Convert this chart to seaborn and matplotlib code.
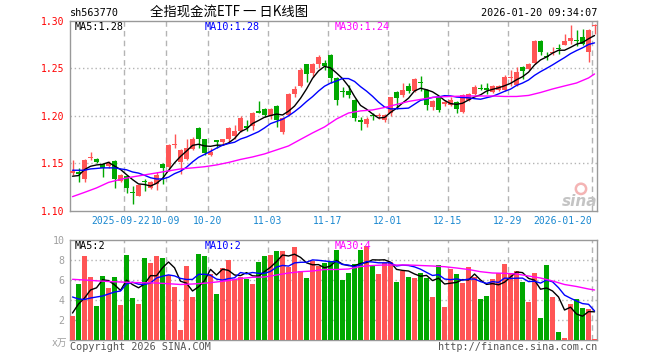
import numpy as np
import pandas as pd
import matplotlib
matplotlib.use("Agg")
import matplotlib.pyplot as plt
import seaborn as sns

# ==========================================================
# DATA  (daily K-line, 2025-09-09 .. 2026-01-20, 88 sessions)
# ==========================================================
opens = [1.140, 1.141, 1.133, 1.155, 1.154, 1.149, 1.147, 1.152, 1.131, 1.137,
         1.120, 1.116, 1.131, 1.124, 1.128, 1.149, 1.146, 1.169, 1.151, 1.154,
         1.165, 1.187, 1.175, 1.159, 1.174, 1.172, 1.176, 1.179, 1.184, 1.189,
         1.189, 1.205, 1.207, 1.200, 1.210, 1.183, 1.201, 1.223, 1.231, 1.254,
         1.245, 1.255, 1.256, 1.264, 1.240, 1.2255, 1.226, 1.217, 1.195, 1.191,
         1.2005, 1.1995, 1.195, 1.203, 1.225, 1.222, 1.231, 1.226, 1.236, 1.227,
         1.209, 1.220, 1.2125, 1.211, 1.215, 1.204, 1.217, 1.223, 1.229, 1.229,
         1.225, 1.227, 1.227, 1.2395, 1.232, 1.251, 1.249, 1.256, 1.279, 1.2625,
         1.2665, 1.271, 1.275, 1.279, 1.2795, 1.283, 1.267, 1.295]
highs = [1.153, 1.145, 1.154, 1.162, 1.155, 1.150, 1.152, 1.153, 1.139, 1.138,
         1.126, 1.128, 1.133, 1.131, 1.141, 1.150, 1.170, 1.181, 1.165, 1.175,
         1.178, 1.188, 1.176, 1.166, 1.174, 1.176, 1.188, 1.190, 1.200, 1.196,
         1.204, 1.216, 1.208, 1.208, 1.211, 1.199, 1.224, 1.231, 1.250, 1.255,
         1.256, 1.264, 1.259, 1.265, 1.241, 1.230, 1.232, 1.218, 1.199, 1.199,
         1.203, 1.203, 1.202, 1.220, 1.226, 1.235, 1.235, 1.240, 1.242, 1.228,
         1.217, 1.221, 1.217, 1.220, 1.216, 1.223, 1.224, 1.232, 1.233, 1.234,
         1.232, 1.232, 1.243, 1.248, 1.251, 1.252, 1.256, 1.280, 1.280, 1.267,
         1.272, 1.276, 1.286, 1.296, 1.290, 1.291, 1.291, 1.297]
lows = [1.138, 1.130, 1.130, 1.153, 1.150, 1.136, 1.145, 1.124, 1.130, 1.119,
        1.107, 1.115, 1.121, 1.123, 1.122, 1.128, 1.142, 1.166, 1.139, 1.153,
        1.164, 1.166, 1.159, 1.158, 1.166, 1.169, 1.171, 1.175, 1.183, 1.184,
        1.185, 1.203, 1.199, 1.197, 1.188, 1.181, 1.200, 1.220, 1.230, 1.236,
        1.241, 1.250, 1.248, 1.234, 1.211, 1.220, 1.219, 1.194, 1.185, 1.188,
        1.196, 1.197, 1.193, 1.200, 1.207, 1.220, 1.224, 1.225, 1.226, 1.206,
        1.206, 1.204, 1.210, 1.210, 1.203, 1.203, 1.216, 1.222, 1.227, 1.223,
        1.224, 1.226, 1.226, 1.231, 1.231, 1.239, 1.248, 1.255, 1.264, 1.259,
        1.264, 1.265, 1.274, 1.276, 1.273, 1.275, 1.257, 1.286]
closes = [1.142, 1.139, 1.153, 1.156, 1.151, 1.145, 1.150, 1.133, 1.138, 1.124,
          1.119, 1.127, 1.130, 1.130, 1.138, 1.145, 1.169, 1.170, 1.164, 1.166,
          1.175, 1.175, 1.161, 1.162, 1.172, 1.175, 1.187, 1.184, 1.198, 1.187,
          1.203, 1.203, 1.201, 1.207, 1.195, 1.198, 1.223, 1.228, 1.248, 1.244,
          1.254, 1.262, 1.252, 1.240, 1.217, 1.2245, 1.222, 1.198, 1.193, 1.197,
          1.1995, 1.2005, 1.201, 1.2195, 1.219, 1.227, 1.226, 1.239, 1.234, 1.211,
          1.216, 1.206, 1.214, 1.217, 1.207, 1.222, 1.223, 1.230, 1.228, 1.227,
          1.231, 1.231, 1.241, 1.2405, 1.246, 1.247, 1.255, 1.279, 1.267, 1.2615,
          1.2675, 1.270, 1.279, 1.282, 1.2785, 1.276, 1.290, 1.296]
volumes = [2.4, 5.6, 8.4, 6.3, 3.4, 6.4, 5.2, 6.3, 3.5, 8.5,
           4.2, 3.6, 8.2, 7.7, 8.4, 8.2, 6.5, 5.3, 1.0, 7.4,
           4.3, 8.6, 8.4, 6.6, 4.6, 7.2, 8.0, 6.1, 6.3, 6.1,
           5.6, 7.8, 8.4, 8.5, 8.9, 8.9, 7.3, 9.3, 6.9, 6.2,
           7.9, 7.4, 7.7, 7.8, 9.0, 6.0, 6.7, 7.6, 9.0, 9.4,
           7.4, 6.6, 7.7, 7.8, 5.8, 6.9, 6.3, 6.2, 6.7, 6.2,
           4.3, 7.5, 3.3, 7.1, 6.6, 5.7, 7.3, 6.3, 4.1, 4.4,
           6.1, 6.7, 7.6, 6.7, 6.9, 5.8, 3.8, 6.7, 2.2, 7.5,
           4.3, 0.8, 0.2, 3.6, 4.1, 3.2, 3.1, 0.1]

# moving averages at the left edge (need sessions before the window)
ma5_head = [1.1363, 1.1370, 1.1433, 1.1468]
ma10_head = [1.1426, 1.1426, 1.1426, 1.1440, 1.1445, 1.1451, 1.1451, 1.1451, 1.1440]
vol_ma5_head = [2.7, 3.6, 4.2, 5.0]
vol_ma10_head = [4.3, 4.1, 4.05, 4.2, 4.3, 4.4, 4.6, 4.8, 4.9]

# MA30 every second session
ma30_days = list(range(0, 88, 2)) + [87]
ma30 = [1.1148, 1.1193, 1.1240, 1.1298, 1.1330, 1.1356, 1.1377, 1.1398, 1.1419, 1.1440,
        1.1451, 1.1463, 1.1482, 1.1508, 1.1540, 1.1566, 1.1598, 1.1640, 1.1682, 1.1751,
        1.1819, 1.1882, 1.1966, 1.2029, 1.2051, 1.2061, 1.2087, 1.2119, 1.2151, 1.2172,
        1.2193, 1.2201, 1.2205, 1.2208, 1.2208, 1.2208, 1.2203, 1.2203, 1.2214, 1.2245,
        1.2282, 1.2314, 1.2345, 1.2398, 1.2440]
vol_ma30 = [6.07, 6.0, 5.92, 5.85, 5.8, 5.75, 5.72, 5.7, 5.63, 5.55,
            5.6, 5.68, 5.8, 5.95, 6.15, 6.27, 6.3, 6.5, 6.7, 6.83,
            6.9, 7.05, 7.05, 7.1, 7.35, 7.45, 7.5, 7.5, 7.5, 7.45,
            7.4, 7.33, 7.2, 7.05, 6.83, 6.7, 6.67, 6.6, 6.4, 6.2,
            5.9, 5.55, 5.35, 5.1, 5.0]

date_days = [9, 16, 23, 33, 43, 53, 63, 73, 87]
date_labels = ["2025-09-22", "10-09", "10-20", "11-03", "11-17",
               "12-01", "12-15", "12-29", "2026-01-20"]
price_ticks = [1.10, 1.15, 1.20, 1.25, 1.30]
vol_ticks = [2, 4, 6, 8, 10]

# ==========================================================
# STYLE
# ==========================================================
sns.set_theme(style="white")
plt.rcParams["font.family"] = ["DejaVu Sans Mono", "Noto Sans CJK SC"]

RED = "#ff5555"
GREEN = "#00a800"
GRID = "#b4b4b4"
FRAME = "#999999"

W, H = 660, 360


def box(l, t, r, b):
    return [l / W, 1 - b / H, (r - l) / W, (b - t) / H]


def fpos(px, py):
    return px / W, 1 - py / H


fig = plt.figure(figsize=(W / 100, H / 100), dpi=100)
fig.patch.set_facecolor("white")
ax = fig.add_axes(box(70, 20.8, 597, 210.7))
axv = fig.add_axes(box(70, 240, 597, 340))

n = len(closes)
xs = np.arange(n) + 0.42
up = [c >= o for o, c in zip(opens, closes)]
colors = [RED if u else GREEN for u in up]

# ----- candles -----
for x, o, h, l, c, col in zip(xs, opens, highs, lows, closes, colors):
    ax.vlines(x, l, h, color=col, lw=1, zorder=3)
    ax.bar(x, max(abs(c - o), 0.0011), bottom=min(o, c), width=0.8,
           color=col, linewidth=0, zorder=3)

# ----- moving averages -----
cs = pd.Series(closes)
ma5 = cs.rolling(5).mean().to_numpy()
ma5[:4] = ma5_head
ma10 = cs.rolling(10).mean().to_numpy()
ma10[:9] = ma10_head

sns.lineplot(x=xs, y=ma5, color="black", lw=1, ax=ax, zorder=4)
sns.lineplot(x=xs, y=ma10, color="#0000ff", lw=1, ax=ax, zorder=4)
sns.lineplot(x=np.array(ma30_days) + 0.42, y=ma30, color="#ff00ff", lw=1, ax=ax, zorder=4)

# ----- volume -----
axv.bar(xs, volumes, width=0.83, color=colors, linewidth=0, zorder=3)
vs = pd.Series(volumes)
vma5 = vs.rolling(5).mean().to_numpy()
vma5[:4] = vol_ma5_head
vma10 = vs.rolling(10).mean().to_numpy()
vma10[:9] = vol_ma10_head
sns.lineplot(x=xs, y=vma5, color="black", lw=1, ax=axv, zorder=4)
sns.lineplot(x=xs, y=vma10, color="#0000ff", lw=1, ax=axv, zorder=4)
sns.lineplot(x=np.array(ma30_days) + 0.42, y=vol_ma30, color="#ff00ff", lw=1, ax=axv, zorder=4)

# ----- axes cosmetics -----
for a in (ax, axv):
    a.set_xlim(0, 87.83)
    for s in a.spines.values():
        s.set_color(FRAME)
        s.set_linewidth(1)
    for d in date_days:
        a.axvline(d, color=GRID, lw=1, ls=(0, (4, 3)), zorder=1)
    a.set_xlabel("")
    a.set_ylabel("")
    a.set_xticks([])
    a.grid(False)

ax.set_ylim(1.10, 1.30)
for p in price_ticks[1:-1]:
    ax.axhline(p, color=GRID, lw=1, ls=(0, (1, 2)), zorder=1)
ax.set_yticks(price_ticks)
ax.set_yticklabels([f"{p:.2f}" for p in price_ticks])
ax.tick_params(axis="y", length=0, pad=4, labelsize=7, labelcolor="#ff0000")

# date labels under the price panel (first one nudged left, last one right-aligned)
for i, (d, lab) in enumerate(zip(date_days, date_labels)):
    xpos, ha = d, "center"
    if i == 0:
        xpos = d - 0.55
    if i == len(date_days) - 1:
        ha = "right"
    ax.text(xpos, -0.055, lab, transform=ax.get_xaxis_transform(), ha=ha,
            va="center", fontsize=7, color="#1a88d0")

axv.set_ylim(0, 10)
for v in vol_ticks[:-1]:
    axv.axhline(v, color=GRID, lw=1, ls=(0, (1, 2)), zorder=1)
axv.set_yticks(vol_ticks)
axv.set_yticklabels([str(v) for v in vol_ticks])
axv.tick_params(axis="y", length=0, pad=4, labelsize=7.2, labelcolor="#a0a0a0")

# ----- texts -----
mono = dict(fontsize=7.3, va="center")
fig.text(*fpos(70, 13), "sh563770", ha="left", color="black", **mono)
fig.text(*fpos(150, 13), "全指现金流ETF 一 日K线图", ha="left", va="center",
         fontsize=9.6, color="black", family=["Noto Sans CJK SC", "DejaVu Sans"])
fig.text(*fpos(597, 13), "2026-01-20 09:34:07", ha="right", color="black", **mono)

fig.text(*fpos(75, 27), "MA5:1.28", ha="left", color="black", **mono)
fig.text(*fpos(205, 27), "MA10:1.28", ha="left", color="#0000ff", **mono)
fig.text(*fpos(335, 27), "MA30:1.24", ha="left", color="#ff00ff", **mono)

fig.text(*fpos(75, 246), "MA5:2", ha="left", color="black", **mono)
fig.text(*fpos(205, 246), "MA10:2", ha="left", color="#0000ff", **mono)
fig.text(*fpos(335, 246), "MA30:4", ha="left", color="#ff00ff", **mono)

fig.text(*fpos(67, 343), "x万", ha="right", va="center", fontsize=7, color="#a0a0a0")
fig.text(*fpos(70, 347), "Copyright 2026 SINA.COM", ha="left", color="#555555", **mono)
fig.text(*fpos(597, 347), "http://finance.sina.com.cn", ha="right", color="#555555", **mono)

# sina watermark: eye as a ring marker, word below it
ax.scatter([0.9696], [0.115], s=55, facecolors="none", edgecolors="#f4b4b4",
           linewidths=1.8, transform=ax.transAxes, zorder=2, clip_on=False)
fig.text(*fpos(597, 201), "sina", ha="right", va="center", fontsize=11,
         style="italic", weight="bold", color="#c4c4c4", family="DejaVu Sans")

fig.savefig("out.png", dpi=100)
